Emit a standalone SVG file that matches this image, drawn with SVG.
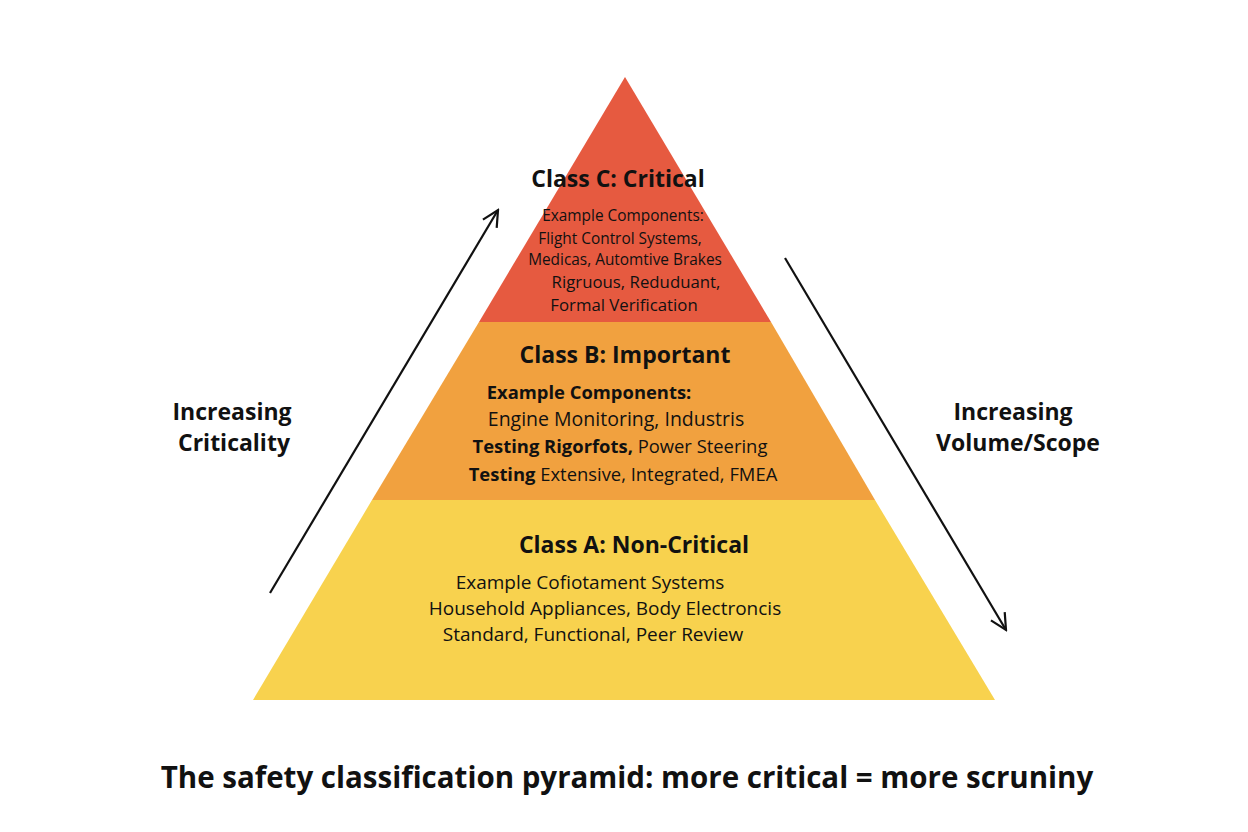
<svg xmlns="http://www.w3.org/2000/svg" width="1248" height="832" viewBox="0 0 1248 832">
<defs>
<style>
text{font-family:"Open Sans","Noto Sans",sans-serif;fill:#111;text-anchor:middle}
.h{font-weight:bold;font-size:23px}
.b{font-size:19px}
.bb{font-size:19.5px}
.bt{font-size:18.4px}
.s{font-size:15.4px}
.c{font-size:16.8px}
.side{font-weight:bold;font-size:23px}
.ln{stroke:#111;stroke-width:2.2;fill:none}
</style>
<marker id="ah" viewBox="0 0 20 20" refX="18" refY="10" markerWidth="20" markerHeight="20" markerUnits="userSpaceOnUse" orient="auto"><path d="M2,2 L18,10 L2,18" fill="none" stroke="#111" stroke-width="2.2"/></marker>
</defs>
<rect width="1248" height="832" fill="#fff"/>
<g id="classA"><polygon points="372,500 875,500 995,700 253,700" fill="#f8d24e"/>
<text class="h" x="634" y="553">Class A: Non-Critical</text>
<text class="b" x="590" y="589">Example Cofiotament Systems</text>
<text class="b" x="605" y="615">Household Appliances, Body Electroncis</text>
<text class="b" x="593" y="641">Standard, Functional, Peer Review</text></g>
<g id="classB"><polygon points="479,322 771,322 875,500 372,500" fill="#f1a13f"/>
<text class="h" x="625" y="363">Class B: Important</text>
<text class="bt" x="589" y="399" font-weight="bold">Example Components:</text>
<text class="bb" x="616" y="426">Engine Monitoring, Industris</text>
<text class="bt" x="620" y="453"><tspan font-weight="bold">Testing Rigorfots,</tspan> Power Steering</text>
<text class="bt" x="623" y="481"><tspan font-weight="bold">Testing</tspan> Extensive, Integrated, FMEA</text></g>
<g id="classC"><polygon points="625,77 771,322 479,322" fill="#e65a40"/>
<text class="h" x="618" y="187">Class C: Critical</text>
<text class="s" x="623" y="221">Example Components:</text>
<text class="s" x="620" y="244">Flight Control Systems,</text>
<text class="s" x="625" y="265">Medicas, Automtive Brakes</text>
<text class="c" x="636" y="288">Rigruous, Reduduant,</text>
<text class="c" x="624" y="311">Formal Verification</text></g>
<g id="connectors">
<line class="ln" x1="270" y1="593" x2="498" y2="210" marker-end="url(#ah)"/>
<line class="ln" x1="785" y1="258" x2="1006" y2="630" marker-end="url(#ah)"/>
</g>
<g id="labels">
<text class="side" x="232" y="420">Increasing</text>
<text class="side" x="234" y="451">Criticality</text>
<text class="side" x="1013" y="420">Increasing</text>
<text class="side" x="1018" y="451">Volume/Scope</text>
<text x="627" y="788" font-weight="bold" font-size="29.5">The safety classification pyramid: more critical = more scruniny</text>
</g>
</svg>
